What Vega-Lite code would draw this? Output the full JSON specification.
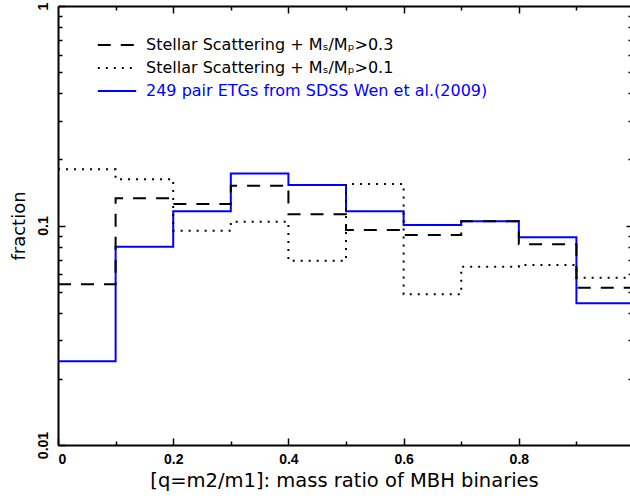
{
  "$schema": "https://vega.github.io/schema/vega-lite/v6.json",
  "width": 572,
  "height": 439,
  "autosize": {"type": "none"},
  "padding": {"left": 58, "top": 6, "right": 0, "bottom": 56},
  "background": "white",
  "data": {"values": [
    {"series": "249 pair ETGs from SDSS Wen et al.(2009)", "q": 0.0, "frac": 0.0241},
    {"series": "249 pair ETGs from SDSS Wen et al.(2009)", "q": 0.1, "frac": 0.0800},
    {"series": "249 pair ETGs from SDSS Wen et al.(2009)", "q": 0.2, "frac": 0.1161},
    {"series": "249 pair ETGs from SDSS Wen et al.(2009)", "q": 0.3, "frac": 0.1727},
    {"series": "249 pair ETGs from SDSS Wen et al.(2009)", "q": 0.4, "frac": 0.1529},
    {"series": "249 pair ETGs from SDSS Wen et al.(2009)", "q": 0.5, "frac": 0.1161},
    {"series": "249 pair ETGs from SDSS Wen et al.(2009)", "q": 0.6, "frac": 0.1005},
    {"series": "249 pair ETGs from SDSS Wen et al.(2009)", "q": 0.7, "frac": 0.1045},
    {"series": "249 pair ETGs from SDSS Wen et al.(2009)", "q": 0.8, "frac": 0.0884},
    {"series": "249 pair ETGs from SDSS Wen et al.(2009)", "q": 0.9, "frac": 0.0442},
    {"series": "249 pair ETGs from SDSS Wen et al.(2009)", "q": 1.0, "frac": 0.0442},
    {"series": "Stellar Scattering + Mₛ/Mₚ>0.3", "q": 0.0, "frac": 0.0540},
    {"series": "Stellar Scattering + Mₛ/Mₚ>0.3", "q": 0.1, "frac": 0.1330},
    {"series": "Stellar Scattering + Mₛ/Mₚ>0.3", "q": 0.2, "frac": 0.1253},
    {"series": "Stellar Scattering + Mₛ/Mₚ>0.3", "q": 0.3, "frac": 0.1518},
    {"series": "Stellar Scattering + Mₛ/Mₚ>0.3", "q": 0.4, "frac": 0.1125},
    {"series": "Stellar Scattering + Mₛ/Mₚ>0.3", "q": 0.5, "frac": 0.0954},
    {"series": "Stellar Scattering + Mₛ/Mₚ>0.3", "q": 0.6, "frac": 0.0905},
    {"series": "Stellar Scattering + Mₛ/Mₚ>0.3", "q": 0.7, "frac": 0.1045},
    {"series": "Stellar Scattering + Mₛ/Mₚ>0.3", "q": 0.8, "frac": 0.0821},
    {"series": "Stellar Scattering + Mₛ/Mₚ>0.3", "q": 0.9, "frac": 0.0521},
    {"series": "Stellar Scattering + Mₛ/Mₚ>0.3", "q": 1.0, "frac": 0.0521},
    {"series": "Stellar Scattering + Mₛ/Mₚ>0.1", "q": 0.0, "frac": 0.1803},
    {"series": "Stellar Scattering + Mₛ/Mₚ>0.1", "q": 0.1, "frac": 0.1624},
    {"series": "Stellar Scattering + Mₛ/Mₚ>0.1", "q": 0.2, "frac": 0.0947},
    {"series": "Stellar Scattering + Mₛ/Mₚ>0.1", "q": 0.3, "frac": 0.1040},
    {"series": "Stellar Scattering + Mₛ/Mₚ>0.1", "q": 0.4, "frac": 0.0691},
    {"series": "Stellar Scattering + Mₛ/Mₚ>0.1", "q": 0.5, "frac": 0.1545},
    {"series": "Stellar Scattering + Mₛ/Mₚ>0.1", "q": 0.6, "frac": 0.0486},
    {"series": "Stellar Scattering + Mₛ/Mₚ>0.1", "q": 0.7, "frac": 0.0649},
    {"series": "Stellar Scattering + Mₛ/Mₚ>0.1", "q": 0.8, "frac": 0.0661},
    {"series": "Stellar Scattering + Mₛ/Mₚ>0.1", "q": 0.9, "frac": 0.0578},
    {"series": "Stellar Scattering + Mₛ/Mₚ>0.1", "q": 1.0, "frac": 0.0578}
  ]},
  "config": {
    "view": {"stroke": null},
    "axis": {
      "domainColor": "black", "domainWidth": 2, "tickColor": "black", "tickWidth": 1.5,
      "grid": false, "labelFont": "Liberation Sans", "labelFontWeight": "bold",
      "labelFontSize": 14, "labelColor": "black", "titleFont": "DejaVu Sans",
      "titleFontSize": 19.5, "titleFontWeight": "normal", "titleColor": "black"
    },
    "legend": {
      "orient": "none", "legendX": 50, "legendY": 30, "title": null,
      "symbolType": "M-2.4,0H2.4", "symbolSize": 256, "symbolStrokeWidth": 2,
      "labelFont": "DejaVu Sans", "labelFontSize": 16, "labelColor": "black",
      "labelOffset": 20, "rowPadding": 6, "labelLimit": 0, "padding": 0
    }
  },
  "layer": [
    {
      "mark": {"type": "line", "interpolate": "step-after", "strokeWidth": 2, "clip": true},
      "encoding": {
        "x": {"field": "q", "type": "quantitative",
          "scale": {"domain": [0, 0.993], "nice": false, "zero": false},
          "axis": {"orient": "bottom", "values": [0, 0.2, 0.4, 0.6, 0.8], "format": "~g", "tickSize": -7, "labelPadding": 14,
            "title": "[q=m2/m1]: mass ratio of MBH binaries", "titlePadding": 5}},
        "y": {"field": "frac", "type": "quantitative",
          "scale": {"type": "log", "domain": [0.01, 1], "nice": false},
          "axis": {"orient": "left", "values": [0.01, 0.1, 1], "format": "~g", "tickSize": -7, "labelPadding": 15,
            "labelAngle": -90, "labelAlign": "center", "labelBaseline": "bottom",
            "title": "fraction", "titleFontSize": 18, "titlePadding": 8}},
        "color": {"field": "series", "type": "nominal",
          "scale": {"domain": ["Stellar Scattering + Mₛ/Mₚ>0.3", "Stellar Scattering + Mₛ/Mₚ>0.1", "249 pair ETGs from SDSS Wen et al.(2009)"],
            "range": ["black", "black", "#0000ff"]},
          "legend": {
            "encode": {"labels": {"update": {"fill": {"signal": "datum.value == '249 pair ETGs from SDSS Wen et al.(2009)' ? '#0000ff' : 'black'"}}}}}},
        "strokeDash": {"field": "series", "type": "nominal",
          "scale": {"domain": ["Stellar Scattering + Mₛ/Mₚ>0.3", "Stellar Scattering + Mₛ/Mₚ>0.1", "249 pair ETGs from SDSS Wen et al.(2009)"],
            "range": [[13, 10], [2, 6], [1, 0]]},
          "legend": {
            "encode": {"labels": {"update": {"fill": {"signal": "datum.value == '249 pair ETGs from SDSS Wen et al.(2009)' ? '#0000ff' : 'black'"}}}}}}
      }
    },
    {
      "mark": {"type": "point", "opacity": 0},
      "encoding": {
        "x": {"field": "q", "type": "quantitative",
          "axis": {"orient": "bottom", "values": [0.1, 0.3, 0.5, 0.7, 0.9], "tickSize": -4, "labels": false, "domain": false, "title": null}},
        "y": {"field": "frac", "type": "quantitative",
          "axis": {"orient": "left", "values": [0.02, 0.03, 0.04, 0.05, 0.06, 0.07, 0.08, 0.09, 0.2, 0.3, 0.4, 0.5, 0.6, 0.7, 0.8, 0.9], "tickSize": -4, "labels": false, "domain": false, "title": null}}
      }
    },
    {
      "mark": {"type": "point", "opacity": 0},
      "encoding": {
        "x": {"field": "q", "type": "quantitative",
          "axis": {"orient": "top", "values": [0.2, 0.4, 0.6, 0.8], "tickSize": -7, "labels": false, "domain": true, "title": null}},
        "y": {"field": "frac", "type": "quantitative",
          "axis": {"orient": "right", "values": [0.1], "tickSize": -4, "labels": false, "domain": false, "title": null}}
      }
    },
    {
      "mark": {"type": "point", "opacity": 0},
      "encoding": {
        "x": {"field": "q", "type": "quantitative",
          "axis": {"orient": "top", "values": [0.1, 0.3, 0.5, 0.7, 0.9], "tickSize": -4, "labels": false, "domain": false, "title": null}},
        "y": {"field": "frac", "type": "quantitative",
          "axis": {"orient": "right", "values": [0.02, 0.03, 0.04, 0.05, 0.06, 0.07, 0.08, 0.09, 0.2, 0.3, 0.4, 0.5, 0.6, 0.7, 0.8, 0.9], "tickSize": -2, "labels": false, "domain": false, "title": null}}
      }
    }
  ],
  "resolve": {"axis": {"x": "independent", "y": "independent"}}
}
